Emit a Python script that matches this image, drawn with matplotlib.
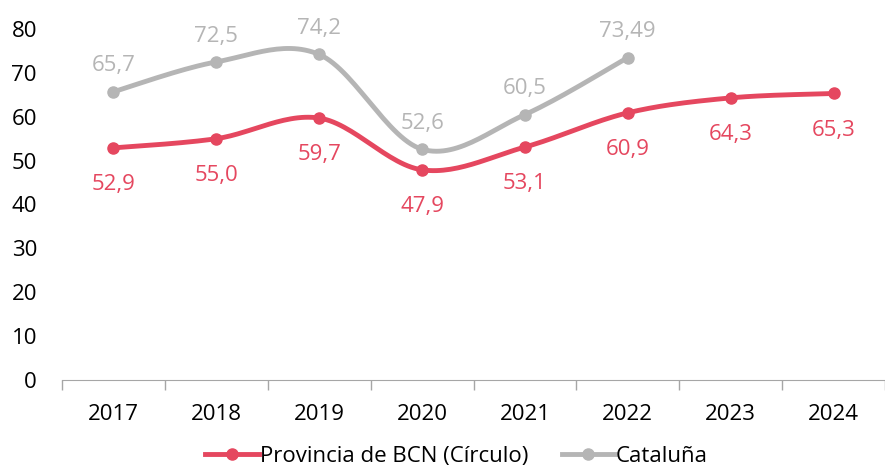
import matplotlib.pyplot as plt
import numpy as np
from matplotlib.lines import Line2D

years = ["2017", "2018", "2019", "2020", "2021", "2022", "2023", "2024"]
bcn = [52.9, 55.0, 59.7, 47.9, 53.1, 60.9, 64.3, 65.3]
cat = [65.7, 72.5, 74.2, 52.6, 60.5, 73.49]
cat_labels = ["65,7", "72,5", "74,2", "52,6", "60,5", "73,49"]

RED = "#E5475F"
GREY = "#B5B5B5"
FS = 16
plt.rcParams['font.family'] = ['Open Sans', 'DejaVu Sans']


def smooth(x, y, n=30):
    # Excel-style smoothed line (Catmull-Rom bezier)
    x = np.asarray(x, float)
    y = np.asarray(y, float)
    px, py = [], []
    for i in range(len(x) - 1):
        x0, y0 = (x[i - 1], y[i - 1]) if i > 0 else (x[i], y[i])
        x3, y3 = (x[i + 2], y[i + 2]) if i + 2 < len(x) else (x[i + 1], y[i + 1])
        c1x = x[i] + (x[i + 1] - x0) / 6
        c1y = y[i] + (y[i + 1] - y0) / 6
        c2x = x[i + 1] - (x3 - x[i]) / 6
        c2y = y[i + 1] - (y3 - y[i]) / 6
        t = np.linspace(0, 1, n)
        px.extend((1 - t) ** 3 * x[i] + 3 * (1 - t) ** 2 * t * c1x + 3 * (1 - t) * t ** 2 * c2x + t ** 3 * x[i + 1])
        py.extend((1 - t) ** 3 * y[i] + 3 * (1 - t) ** 2 * t * c1y + 3 * (1 - t) * t ** 2 * c2y + t ** 3 * y[i + 1])
    return px, py


fig = plt.figure(figsize=(8.85, 4.66), dpi=100)
ax = fig.add_axes([62 / 885, 86 / 466, 823 / 885, 351 / 466])

xb = np.arange(len(bcn))
xc = np.arange(len(cat))

sx, sy = smooth(xc, cat)
ax.plot(sx, sy, color=GREY, lw=3.5, solid_capstyle='round', zorder=2)
ax.plot(xc, cat, 'o', color=GREY, ms=8, zorder=3)
sx, sy = smooth(xb, bcn)
ax.plot(sx, sy, color=RED, lw=3.5, solid_capstyle='round', zorder=4)
ax.plot(xb, bcn, 'o', color=RED, ms=8, zorder=5)

for x, v, lab in zip(xc, cat, cat_labels):
    ax.annotate(lab, (x, v), xytext=(0, 11), textcoords='offset points',
                ha='center', va='bottom', color=GREY, fontsize=FS)
for x, v in zip(xb, bcn):
    ax.annotate(f"{v:.1f}".replace('.', ','), (x, v), xytext=(0, -19),
                textcoords='offset points', ha='center', va='top',
                color=RED, fontsize=FS)

ax.set_xlim(-0.5, len(years) - 0.5)
ax.set_ylim(0, 80)
ax.set_yticks(range(0, 81, 10))
ax.set_xticks(xb)
ax.set_xticklabels(years)
ax.set_xticks(np.arange(-0.5, len(years), 1), minor=True)
ax.tick_params(axis='x', which='major', length=0, pad=17, labelsize=FS)
ax.tick_params(axis='x', which='minor', length=7, color='#A6A6A6', width=1)
ax.tick_params(axis='y', length=0, pad=18, labelsize=FS)
for s in ['top', 'right', 'left']:
    ax.spines[s].set_visible(False)
ax.spines['bottom'].set_color('#A6A6A6')

handles = [
    Line2D([], [], color=RED, lw=3.5, marker='o', ms=8),
    Line2D([], [], color=GREY, lw=3.5, marker='o', ms=8),
]
fig.legend(handles, ["Provincia de BCN (Círculo)", "Cataluña"], loc='lower center',
           bbox_to_anchor=(0.516, -0.045), ncol=2, frameon=False, fontsize=FS,
           handlelength=2.4, handletextpad=0.05, columnspacing=1.5)

fig.savefig("out.png", dpi=100)
